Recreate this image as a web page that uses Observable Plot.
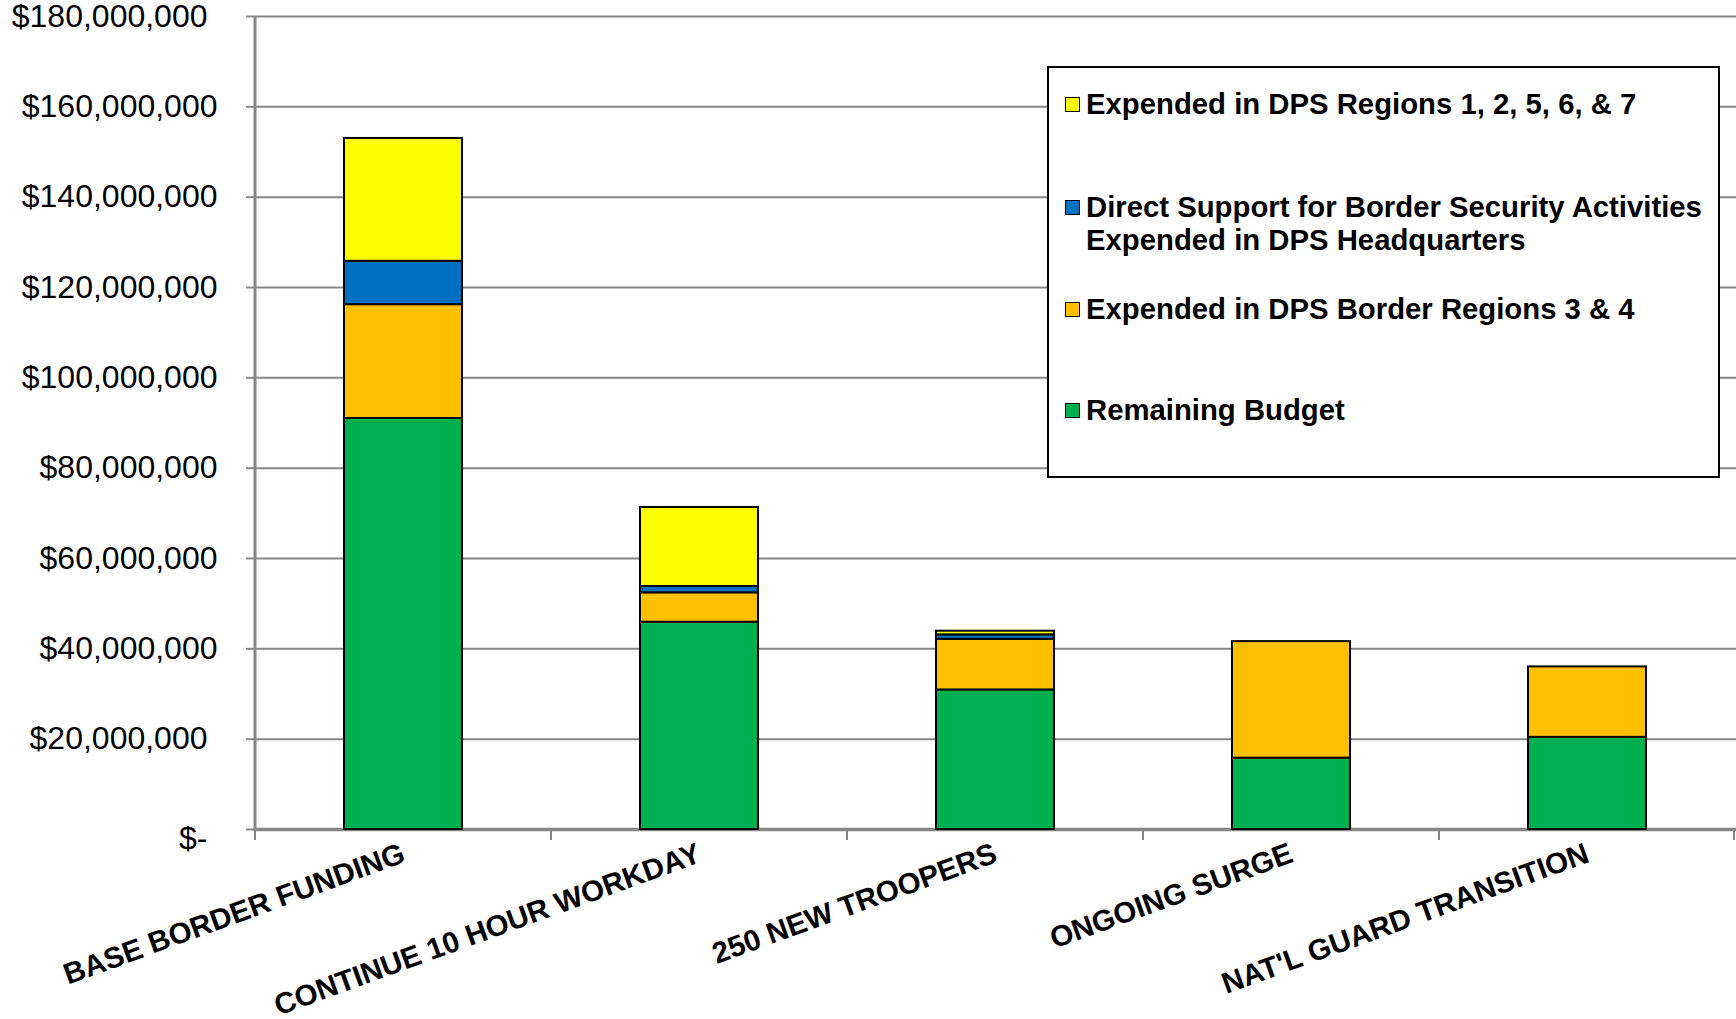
<!DOCTYPE html>
<html><head><meta charset="utf-8">
<script src="https://cdn.jsdelivr.net/npm/d3@7"></script>
<script src="https://cdn.jsdelivr.net/npm/@observablehq/plot@0.6"></script>
<style>
body{margin:0;background:#fff;font-family:"Liberation Sans",Arial,sans-serif;}
#wrap{position:relative;width:1736px;height:1019px;}
#wrap svg{position:absolute;left:0;top:0;}
#legend{position:absolute;left:1047px;top:66px;width:673px;height:412px;box-sizing:border-box;border:2px solid #000;background:#fff;}
.item{position:absolute;left:16px;font-weight:bold;font-size:29.3px;line-height:33px;color:#000;padding-left:21px;white-space:nowrap;}
.sw{position:absolute;left:0;top:10px;width:15px;height:15px;border:1.5px solid #000;box-sizing:border-box;}
</style></head><body><div id="wrap"></div>
<script>
const categories = ["BASE BORDER FUNDING","CONTINUE 10 HOUR WORKDAY","250 NEW TROOPERS","ONGOING SURGE","NAT'L GUARD TRANSITION"];
const seriesNames = ["Remaining Budget","Expended in DPS Border Regions 3 & 4","Direct Support for Border Security Activities Expended in DPS Headquarters","Expended in DPS Regions 1, 2, 5, 6, & 7"];
const remaining = [91.0e6, 45.9e6, 30.9e6, 15.8e6, 20.4e6];
const borderRegions = [25.2e6, 6.5e6, 11.2e6, 25.8e6, 15.6e6];
const directSupport = [9.6e6, 1.4e6, 1.0e6, 0, 0];
const otherRegions = [27.2e6, 17.5e6, 0.8e6, 0, 0];
const seriesColors = ["#00B050","#FFC000","#0070C0","#FFFF00"];
const yTicks = [0, 20e6, 40e6, 60e6, 80e6, 100e6, 120e6, 140e6, 160e6, 180e6];
const legendLines = [
  ["Expended in DPS Regions 1, 2, 5, 6, & 7"],
  ["Direct Support for Border Security Activities", "Expended in DPS Headquarters"],
  ["Expended in DPS Border Regions 3 & 4"],
  ["Remaining Budget"]
];
const legendColors = ["#FFFF00","#0070C0","#FFC000","#00B050"];

const seriesArrays = [remaining, borderRegions, directSupport, otherRegions];
const data = [];
categories.forEach((c, i) => seriesArrays.forEach((arr, j) => {
  if (arr[i] > 0) data.push({category: c, series: seriesNames[j], value: arr[i]});
}));

const fmt = d => d === 0 ? "$-" : "$" + d3.format(",")(d);
const gray = "#878787";

function frameLines(index, scales, values, dims) {
  const x = scales.x;
  const bw = typeof x.bandwidth === "function" ? x.bandwidth() : x.bandwidth;
  const step = x(categories[1]) - x(categories[0]);
  const bottom = dims.height - dims.marginBottom;
  const g = d3.create("svg:g");
  const bounds = categories.map(c => x(c) - (step - bw) / 2);
  bounds.push(bounds[bounds.length - 1] + step - 1);
  bounds.forEach(xb => g.append("line").attr("x1", xb).attr("x2", xb)
    .attr("y1", bottom).attr("y2", bottom + 11).attr("stroke", gray).attr("stroke-width", 2));
  g.append("line").attr("x1", dims.marginLeft).attr("x2", dims.marginLeft)
    .attr("y1", dims.marginTop).attr("y2", bottom + 2).attr("stroke", gray).attr("stroke-width", 3);
  return g.node();
}

const chart = Plot.plot({
  width: 1736, height: 1019,
  marginLeft: 255, marginRight: 0, marginTop: 16, marginBottom: 190,
  style: {fontFamily: "'Liberation Sans', Arial, sans-serif", background: "white", color: "#000", overflow: "visible"},
  x: {domain: categories, paddingInner: 0.6, paddingOuter: 0.3, label: null},
  y: {domain: [0, 180e6], label: null},
  color: {domain: seriesNames, range: seriesColors},
  marks: [
    Plot.gridY(yTicks, {stroke: gray, strokeOpacity: 1, strokeWidth: 2}),
    Plot.axisY(yTicks, {tickSize: 9, stroke: gray, strokeWidth: 2, tickFormat: () => "", label: null}),
    Plot.axisY(yTicks.filter(d => d >= 40e6 && d <= 160e6), {tickSize: 0, tickPadding: 38, tickFormat: fmt, fontSize: 32, fill: "#000", label: null}),
    Plot.axisY([20e6, 180e6], {tickSize: 0, tickPadding: 48, tickFormat: fmt, fontSize: 32, fill: "#000", label: null}),
    Plot.axisY([0], {tickSize: 0, tickPadding: 48, dy: 9, tickFormat: fmt, fontSize: 32, fill: "#000", label: null}),
    Plot.ruleY([0], {stroke: gray, strokeWidth: 3.5}),
    frameLines,
    Plot.barY(data, {x: "category", y: "value", fill: "series", stroke: "#000", strokeWidth: 2, order: seriesNames}),
    Plot.axisX({tickSize: 0, tickPadding: 23, tickRotate: -20, fontSize: 29.5, fontWeight: "bold", fill: "#000", label: null})
  ]
});
const wrap = document.getElementById("wrap");
wrap.appendChild(chart);

const legend = document.createElement("div");
legend.id = "legend";
const tops = [19, 122, 224, 325];
legendLines.forEach((lines, i) => {
  const item = document.createElement("div");
  item.className = "item";
  item.style.top = tops[i] + "px";
  const sw = document.createElement("div");
  sw.className = "sw";
  sw.style.background = legendColors[i];
  item.appendChild(sw);
  lines.forEach(t => { const s = document.createElement("div"); s.textContent = t; item.appendChild(s); });
  legend.appendChild(item);
});
wrap.appendChild(legend);
</script></body></html>
